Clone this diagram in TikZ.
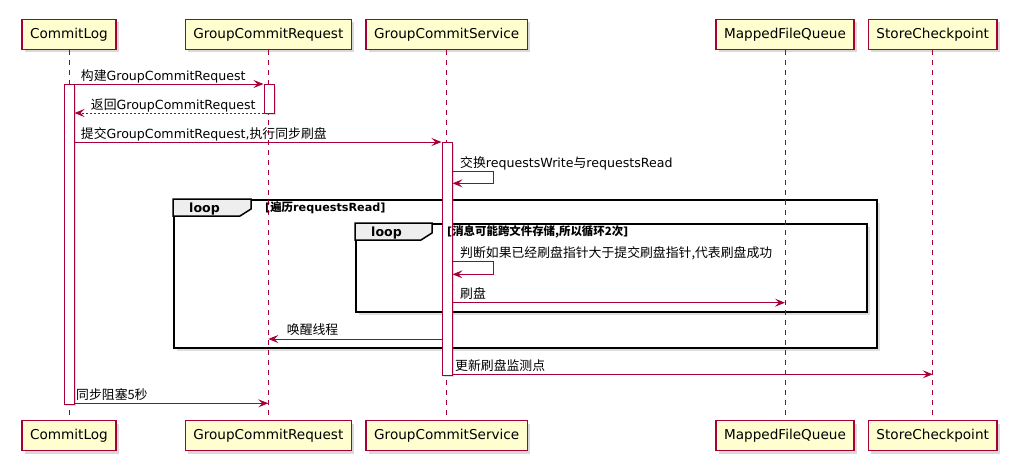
\documentclass[tikz,border=0pt]{standalone}
\usepackage{fontspec}
\setmainfont{DejaVu Sans}
\newfontfamily\cjk[Scale=1.02]{Noto Sans CJK SC}
\usetikzlibrary{arrows.meta, shadows, positioning}
\definecolor{umlred}{HTML}{A80036}
\definecolor{umlyellow}{HTML}{FEFECE}
\definecolor{tabgray}{HTML}{EEEEEE}
\newcommand{\zh}[1]{{\cjk #1}}

\begin{document}
\begin{tikzpicture}[x=1pt, y=-1pt]
    % Setup the styles for the diagram
        \tikzset{participant/.style={draw=umlred,
                                     fill=umlyellow,
                                     line width=1.5pt,
                                     minimum height=30pt,
                                     inner xsep=8pt,
                                     font=\fontsize{13.6}{16}\selectfont,
                                     drop shadow={shadow xshift=3pt, shadow yshift=-3pt, opacity=0.3}},
                 lifeline/.style={draw=umlred, line width=1pt, dash pattern=on 5pt off 5pt},
                 activation/.style={draw=umlred, fill=white, line width=1pt,
                                    minimum width=10pt, inner sep=0pt,
                                    drop shadow={shadow xshift=2pt, shadow yshift=-2pt, opacity=0.25}},
                 msg/.style={draw=umlred, line width=1pt, -{Stealth[length=10pt, width=8pt, inset=4pt]}},
                 reply/.style={msg, dash pattern=on 2pt off 2pt},
                 msg label/.style={anchor=base west, inner sep=0pt, font=\fontsize{12.6}{15}\selectfont},
                 frame/.style={draw=black, fill=white, line width=1.5pt, anchor=north west, inner sep=0pt,
                               drop shadow={shadow xshift=3pt, shadow yshift=-3pt, opacity=0.25}},
                 frame tab/.style={draw=black, line width=1.5pt, fill=tabgray},
                 frame label/.style={anchor=base west, inner sep=0pt, font=\fontsize{12.6}{15}\selectfont\bfseries},
                 guard label/.style={anchor=base west, inner sep=0pt, font=\fontsize{11.2}{13}\selectfont\bfseries}}

        % Draw the participants
        \node[participant] at (69, 34.3)    (logTop) {CommitLog};
        \node[participant] at (268.3, 34.3) (reqTop) {GroupCommitRequest};
        \node[participant] at (446.7, 34.3) (srvTop) {GroupCommitService};
        \node[participant] at (785, 34.3)   (mfqTop) {MappedFileQueue};
        \node[participant] at (932.7, 34.3) (cpTop)  {StoreCheckpoint};
        \node[participant] at (69, 435.5)    (logBot) {CommitLog};
        \node[participant] at (268.3, 435.5) (reqBot) {GroupCommitRequest};
        \node[participant] at (446.7, 435.5) (srvBot) {GroupCommitService};
        \node[participant] at (785, 435.5)   (mfqBot) {MappedFileQueue};
        \node[participant] at (932.7, 435.5) (cpBot)  {StoreCheckpoint};

        % Draw the loop frames
        \node[frame, minimum width=703pt, minimum height=148pt] at (173, 199)   (outerLoop) {};
        \draw[frame tab] (outerLoop.north west) -- ++(78,0) -- ++(0,10) -- ++(-11,7) -- ++(-67,0) -- cycle;
        \node[frame label] at (189, 212.5) (outerKey)   {loop};
        \node[frame, minimum width=511pt, minimum height=88pt] at (355, 223) (innerLoop) {};
        \draw[frame tab] (innerLoop.north west) -- ++(77,0) -- ++(0,10) -- ++(-11,7) -- ++(-66,0) -- cycle;
        \node[frame label] at (371, 236.5) (innerKey)   {loop};

        % Draw the lifelines
        \draw[lifeline] (logTop) -- (logBot);
        \draw[lifeline] (reqTop) -- (reqBot);
        \draw[lifeline] (srvTop) -- (srvBot);
        \draw[lifeline] (mfqTop) -- (mfqBot);
        \draw[lifeline] (cpTop) -- (cpBot);

        % Draw the activations
        \node[activation, minimum height=320pt]   at (69, 244)    (logAct) {};
        \node[activation, minimum height=29pt]    at (269, 98.5)  (reqAct) {};
        \node[activation, minimum height=233pt]   at (447, 258.5) (srvAct) {};

        % Guards of the loops
        \node[guard label] at (265, 211)   (outerGuard) {[\zh{遍历}requestsRead]};
        \node[guard label] at (447, 235.5) (innerGuard) {[\zh{消息可能跨文件存储,所以循环2次}]};

        % Connect the participants with messages
        \node[msg label] at (80.7, 80)  (m1) {\zh{构建}GroupCommitRequest};
        \draw[msg] (logAct.east |- 0,84) -- (reqAct.west |- 0,84);
        \node[msg label] at (90.7, 109) (m2) {\zh{返回}GroupCommitRequest};
        \draw[reply] (reqAct.west |- 0,113) -- (logAct.east |- 0,113);
        \node[msg label] at (80.7, 138) (m3) {\zh{提交}GroupCommitRequest,\zh{执行同步刷盘}};
        \draw[msg] (logAct.east |- 0,142) -- (srvAct.west |- 0,142);
        \node[msg label] at (460, 167)  (m4) {\zh{交换}requestsWrite\zh{与}requestsRead};
        \draw[msg] (srvAct.east |- 0,171.7) -- ++(41,0) -- ++(0,11.6) -- (srvAct.east |- 0,183.3);
        \node[msg label] at (460, 257)  (m5) {\zh{判断如果已经刷盘指针大于提交刷盘指针,代表刷盘成功}};
        \draw[msg] (srvAct.east |- 0,261.7) -- ++(41,0) -- ++(0,12.6) -- (srvAct.east |- 0,274.3);
        \node[msg label] at (460, 298)  (m6) {\zh{刷盘}};
        \draw[msg] (srvAct.east |- 0,302.7) -- (mfqTop |- 0,302.7);
        \node[msg label] at (286.7, 334) (m7) {\zh{唤醒线程}};
        \draw[msg] (srvAct.west |- 0,339) -- (reqTop |- 0,339);
        \node[msg label] at (455, 370)  (m8) {\zh{更新刷盘监测点}};
        \draw[msg] (srvAct.east |- 0,374.3) -- (cpTop |- 0,374.3);
        \node[msg label] at (76, 399)   (m9) {\zh{同步阻塞5秒}};
        \draw[msg] (logAct.east |- 0,403.3) -- (reqTop |- 0,403.3);

    \useasboundingbox (0,0) rectangle (1017,475);
\end{tikzpicture}
\end{document}
